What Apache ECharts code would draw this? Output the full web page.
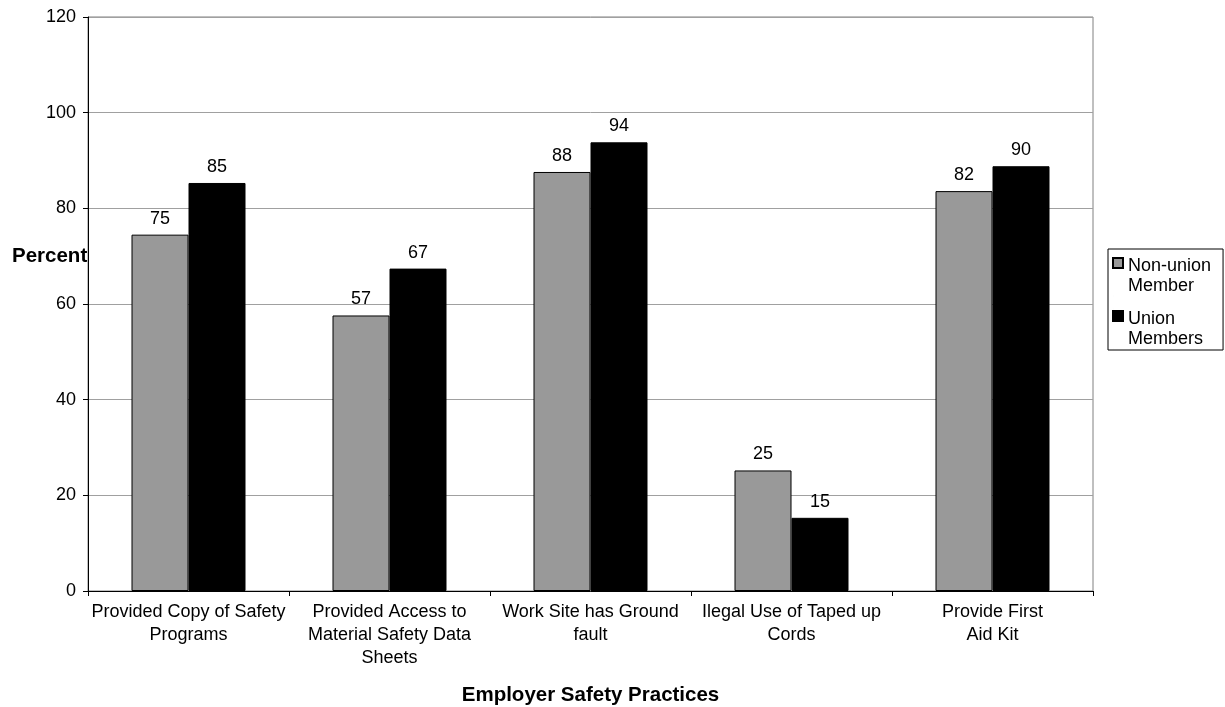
<!DOCTYPE html>
<html>
<head>
<meta charset="utf-8">
<script src="https://cdn.jsdelivr.net/npm/echarts@6/dist/echarts.min.js"></script>
<style>
  html, body { margin: 0; padding: 0; background: #fff; }
  #chart { width: 1225px; height: 707px; }
</style>
</head>
<body>
<div id="chart"></div>
<script>
// categories (line breaks as in the picture)
const categories = [
  'Provided Copy of Safety\nPrograms',
  'Provided Access to\nMaterial Safety Data\nSheets',
  'Work Site has Ground\nfault',
  'Ilegal Use of Taped up\nCords',
  'Provide First\nAid Kit'
];
// bar heights
const nonUnion = [74.5, 57.6, 87.6, 25.2, 83.6];
const union = [85.3, 67.4, 93.8, 15.3, 88.8];
// the printed labels above the bars
const nonUnionLabels = ['75', '57', '88', '25', '82'];
const unionLabels = ['85', '67', '94', '15', '90'];

const font = 'Liberation Sans, Arial, sans-serif';
// legend square sits at the top of a two-line tall icon box
const legendIcon = 'path://M0,0L0.01,0M0,2L10,2L10,12L0,12ZM0,40L0.01,40';

const chart = echarts.init(document.getElementById('chart'));
chart.setOption({
  animation: false,
  textStyle: { fontFamily: font },
  title: {
    text: 'Percent',
    left: 7,
    top: 241,
    textStyle: { fontFamily: font, fontSize: 20.5, fontWeight: 'bold', color: '#000' }
  },
  grid: {
    left: 88, right: 132, top: 17, bottom: 116,
    outerBoundsMode: 'none',
    show: true, borderColor: '#808080', borderWidth: 1
  },
  legend: {
    orient: 'vertical',
    left: 1108,
    top: 249,
    padding: [6, 12, 0, 4],
    itemGap: 11,
    itemWidth: 10,
    itemHeight: 40,
    borderColor: '#000',
    borderWidth: 1,
    icon: legendIcon,
    formatter: function (name) { return name.replace(' ', '\n'); },
    textStyle: { fontFamily: font, fontSize: 18, color: '#000', lineHeight: 20 }
  },
  xAxis: {
    type: 'category',
    data: categories,
    name: 'Employer Safety Practices',
    nameLocation: 'middle',
    nameGap: 94,
    nameMoveOverlap: false,
    nameTextStyle: { fontFamily: font, fontSize: 20.5, fontWeight: 'bold', color: '#000' },
    axisLine: { lineStyle: { color: '#000' } },
    axisTick: { show: true, length: 5, lineStyle: { color: '#000' } },
    axisLabel: {
      interval: 0, margin: 10, color: '#000', fontSize: 18,
      lineHeight: 23, fontFamily: font
    }
  },
  yAxis: {
    type: 'value',
    min: 0, max: 120, interval: 20,
    axisLine: { show: true, lineStyle: { color: '#000' } },
    axisTick: { show: true, length: 5, lineStyle: { color: '#000' } },
    axisLabel: { color: '#000', fontSize: 18, margin: 12, fontFamily: font },
    splitLine: { lineStyle: { color: '#a0a0a0' } }
  },
  series: [
    {
      name: 'Non-union Member',
      type: 'bar',
      data: nonUnion,
      barWidth: 57,
      barGap: '0%',
      itemStyle: { color: '#999999', borderColor: '#000', borderWidth: 1 },
      label: {
        show: true, position: 'top', distance: 7, color: '#000', fontSize: 18,
        fontFamily: font,
        formatter: function (p) { return nonUnionLabels[p.dataIndex]; }
      }
    },
    {
      name: 'Union Members',
      type: 'bar',
      data: union,
      barWidth: 57,
      barGap: '0%',
      itemStyle: { color: '#000000', borderColor: '#000', borderWidth: 1 },
      label: {
        show: true, position: 'top', distance: 7, color: '#000', fontSize: 18,
        fontFamily: font,
        formatter: function (p) { return unionLabels[p.dataIndex]; }
      }
    }
  ]
});
</script>
</body>
</html>
